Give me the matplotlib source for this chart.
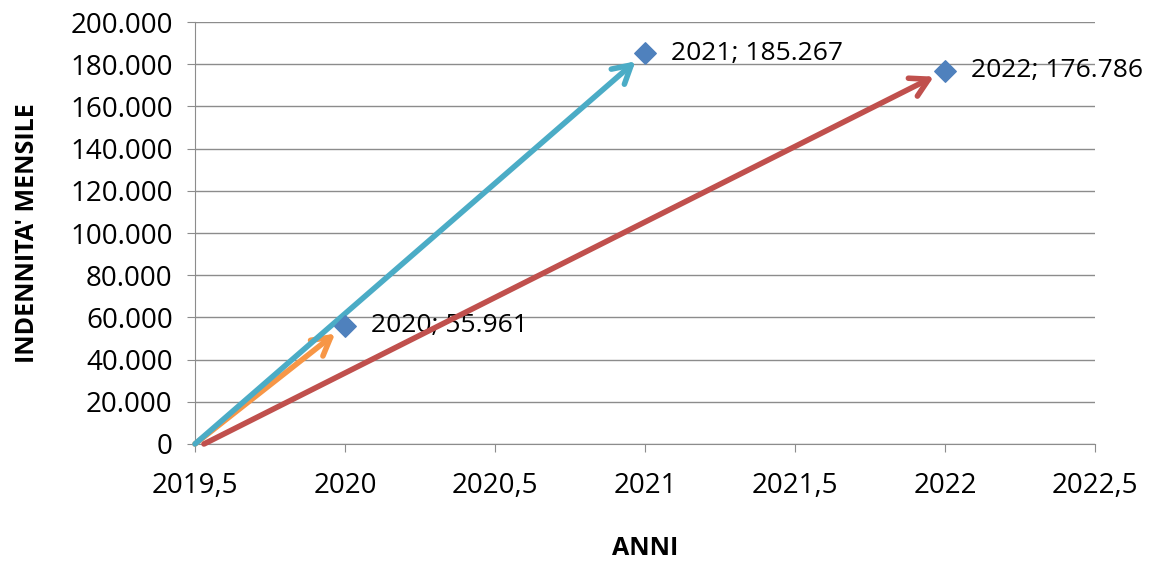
import matplotlib
matplotlib.use("Agg")
import matplotlib.pyplot as plt
from matplotlib.ticker import FuncFormatter, MultipleLocator

# data
years = [2020, 2021, 2022]
indennita = [55961, 185267, 176786]
arrow_colors = ["#F79646", "#4BACC6", "#C0504D"]
origin_x = [2019.5, 2019.5, 2019.53]
origin_y = [0, 0, 0]

plt.rcParams["font.family"] = ["Open Sans", "DejaVu Sans"]


def thousands(value, _pos):
    return f"{value:,.0f}".replace(",", ".")


def decimal_comma(value, _pos):
    text = f"{value:g}"
    return text.replace(".", ",")


fig = plt.figure(figsize=(11.64, 5.69), dpi=100)
ax = fig.add_axes([0.1675, 0.2197, 0.7732, 0.7416])

ax.set_xlim(2019.5, 2022.5)
ax.set_ylim(0, 200000)
ax.xaxis.set_major_locator(MultipleLocator(0.5))
ax.yaxis.set_major_locator(MultipleLocator(20000))
ax.xaxis.set_major_formatter(FuncFormatter(decimal_comma))
ax.yaxis.set_major_formatter(FuncFormatter(thousands))

ax.grid(axis="y", color="#8c8c8c", linewidth=1)
ax.set_axisbelow(True)
for side in ("top", "right"):
    ax.spines[side].set_visible(False)
for side in ("left", "bottom"):
    ax.spines[side].set_color("#8c8c8c")
ax.tick_params(axis="both", colors="#8c8c8c", labelcolor="black", labelsize=20, length=6)
ax.tick_params(axis="x", pad=14)
ax.tick_params(axis="y", pad=10)

for x0, y0, x1, y1, color in zip(origin_x, origin_y, years, indennita, arrow_colors):
    ax.annotate(
        "", xy=(x1, y1), xytext=(x0, y0),
        arrowprops=dict(arrowstyle="->,head_length=0.8,head_width=0.45", color=color,
                        lw=4, shrinkA=0, shrinkB=9, mutation_scale=16),
        zorder=4,
    )

ax.scatter(years, indennita, marker="D", s=120, color="#4F81BD", zorder=5, clip_on=False)

for x, y in zip(years, indennita):
    ax.annotate(f"{x}; {thousands(y, None)}", xy=(x, y), xytext=(19, 0),
                textcoords="offset points", va="center", ha="left",
                fontsize=19, zorder=3, annotation_clip=False)

ax.set_xlabel("ANNI", fontsize=18, fontweight="bold", labelpad=26)
ax.set_ylabel("INDENNITA' MENSILE", fontsize=18, fontweight="bold", labelpad=22)

fig.savefig("out.png", dpi=100)
